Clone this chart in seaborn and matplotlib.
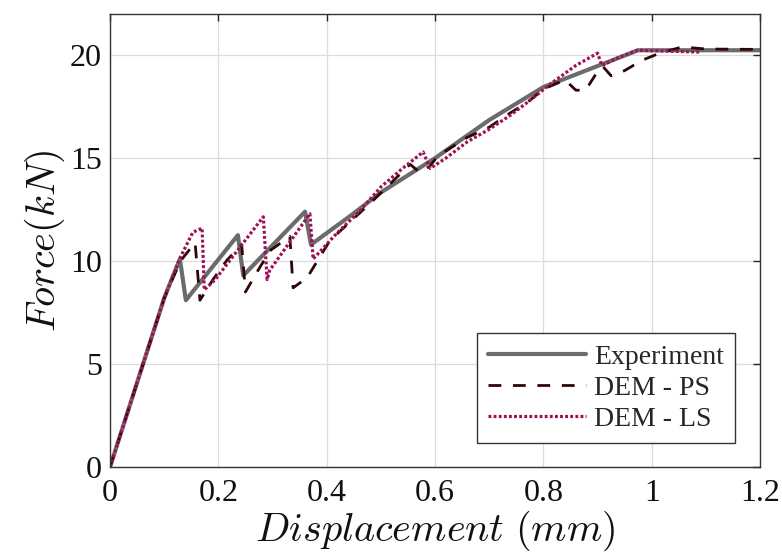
import matplotlib
matplotlib.use("Agg")
import matplotlib.pyplot as plt
import seaborn as sns

# ---- data ----
exp_x = [0, 0.05, 0.10, 0.115, 0.129, 0.140, 0.236, 0.246, 0.360, 0.371,
         0.449, 0.498, 0.600, 0.700, 0.800, 0.975, 1.200]
exp_y = [0, 4.1, 8.2, 9.2, 10.1, 8.1, 11.26, 9.3, 12.4, 10.8,
         12.3, 13.3, 15.0, 16.85, 18.45, 20.24, 20.24]

ps_x = [0, 0.05, 0.10, 0.13, 0.145, 0.157, 0.166, 0.19, 0.216, 0.243, 0.250,
        0.271, 0.295, 0.332, 0.338, 0.364, 0.406, 0.48, 0.554, 0.572, 0.59,
        0.605, 0.659, 0.70, 0.733, 0.77, 0.80, 0.84, 0.86, 0.878, 0.895,
        0.91, 0.925, 0.95, 0.982, 1.015, 1.056, 1.10, 1.20]
ps_y = [0, 4.1, 8.2, 10.0, 10.5, 10.9, 8.1, 9.1, 10.05, 10.8, 8.5,
        9.45, 10.5, 11.2, 8.7, 9.2, 11.0, 12.8, 14.7, 14.3, 14.6,
        15.1, 16.0, 16.5, 17.1, 17.7, 18.35, 18.8, 18.3, 18.3, 19.0,
        19.45, 19.0, 19.25, 19.75, 20.1, 20.4, 20.3, 20.28]

ls_x = [0, 0.05, 0.10, 0.13, 0.153, 0.170, 0.174, 0.194, 0.283, 0.290, 0.295,
        0.369, 0.375, 0.419, 0.46, 0.50, 0.54, 0.578, 0.591, 0.62, 0.66,
        0.70, 0.74, 0.775, 0.818, 0.86, 0.90, 0.908, 0.94, 0.973, 1.09]
ls_y = [0, 4.1, 8.2, 10.2, 11.4, 11.6, 8.6, 9.1, 12.15, 9.1, 9.56,
        12.3, 10.1, 11.36, 12.4, 13.6, 14.5, 15.3, 14.5, 15.0, 15.8,
        16.4, 17.1, 17.8, 18.7, 19.5, 20.1, 19.5, 19.9, 20.24, 20.15]

series_names = ["Experiment", "DEM - PS", "DEM - LS"]
x_ticks = [0, 0.2, 0.4, 0.6, 0.8, 1.0, 1.2]
x_tick_labels = ["0", "0.2", "0.4", "0.6", "0.8", "1", "1.2"]
y_ticks = [0, 5, 10, 15, 20]

# ---- style ----
sns.set_theme(style="white")
plt.rcParams["font.family"] = ["Liberation Serif", "DejaVu Serif"]
plt.rcParams["mathtext.fontset"] = "cm"

fig = plt.figure(figsize=(7.82, 5.58), dpi=100)
ax = fig.add_axes([0.1407, 0.1631, 0.8312, 0.8118])

sns.lineplot(x=exp_x, y=exp_y, ax=ax, color="#6b6b6b", linewidth=3.0,
             label=series_names[0], estimator=None, sort=False)
sns.lineplot(x=ps_x, y=ps_y, ax=ax, color="#2e0606", linewidth=2.0,
             linestyle=(0, (4.6, 4.2)), label=series_names[1],
             estimator=None, sort=False)
sns.lineplot(x=ls_x, y=ls_y, ax=ax, color="#9e1058", linewidth=2.3,
             linestyle=(0, (0.9, 0.7)), label=series_names[2],
             estimator=None, sort=False)

ax.set_xlim(0, 1.2)
ax.set_ylim(0, 22)
ax.set_xticks(x_ticks)
ax.set_xticklabels(x_tick_labels)
ax.set_yticks(y_ticks)
ax.grid(True, color="#dcdcdc", linewidth=0.9)
ax.set_axisbelow(True)
ax.tick_params(direction="in", length=5, width=1, colors="#262626",
               labelsize=23, top=True, right=True, labelcolor="#111111")
ax.tick_params(axis="x", pad=9)
ax.tick_params(axis="y", pad=6)
for s in ax.spines.values():
    s.set_color("#333333")
    s.set_linewidth(1.0)

ax.set_xlabel(r"$Displacement\ (mm)$", fontsize=29, labelpad=0, color="#111111")
ax.set_ylabel(r"$Force(kN)$", fontsize=29, labelpad=2, color="#111111")

leg = ax.legend(loc="lower right", bbox_to_anchor=(0.9615, 0.053),
                bbox_transform=ax.transAxes, borderaxespad=0,
                fontsize=20, handlelength=3.5, frameon=True, fancybox=False,
                framealpha=1, edgecolor="#333333", borderpad=0.4,
                labelspacing=0.2, handletextpad=0.3)
leg.get_frame().set_linewidth(1.0)

fig.savefig("out.png", dpi=100)
